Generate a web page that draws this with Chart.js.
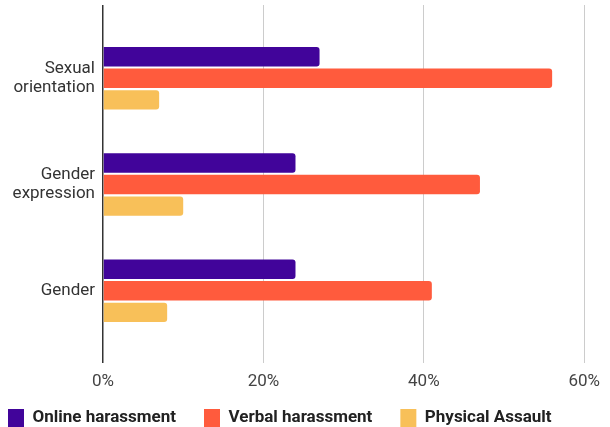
<!DOCTYPE html>
<html>
<head>
<meta charset="utf-8">
<script src="https://cdn.jsdelivr.net/npm/chart.js@4"></script>
<style>
  html, body { margin: 0; padding: 0; background: #fff; }
  #wrap { width: 610px; height: 427px; }
</style>
</head>
<body>
<div id="wrap"><canvas id="myChart"></canvas></div>
<script>
const categories = [["Sexual", "orientation"], ["Gender", "expression"], "Gender"];
const seriesNames = ["Online harassment", "Verbal harassment", "Physical Assault"];
const online = [27, 24, 24];
const verbal = [56, 47, 41];
const physical = [7, 10, 8];
const xTicks = [0, 20, 40, 60];
const colors = ["#41049a", "#ff5b3d", "#f8c059"];

// bars sit on a linear index axis so the empty space above and below the groups can be set
const toPoints = (arr) => arr.map((v, i) => ({ x: v, y: i }));

// pull the legend row up closer to the axis labels
const legendLift = {
    id: 'legendLift',
    afterLayout(chart) {
        chart.legend.top -= 19;
        chart.legend.bottom -= 19;
    }
};

const ctx = document.getElementById('myChart').getContext('2d');
const myChart = new Chart(ctx, {
    type: "bar",
    data: {
        datasets: [online, verbal, physical].map((vals, k) => ({
            label: seriesNames[k],
            data: toPoints(vals),
            backgroundColor: colors[k],
            borderRadius: 3,
            categoryPercentage: 0.61,
            barPercentage: 0.9
        }))
    },
    plugins: [legendLift],
    options: {
        indexAxis: 'y',
        responsive: true,
        maintainAspectRatio: false,
        animation: false,
        layout: {
            padding: { top: 5, right: 23, bottom: -29, left: -20 }
        },
        plugins: {
            legend: {
                position: 'bottom',
                align: 'start',
                labels: {
                    boxWidth: 16,
                    boxHeight: 18,
                    padding: 28,
                    color: '#222',
                    font: { family: 'Roboto', size: 17, weight: 'bold' }
                }
            },
            tooltip: { enabled: false }
        },
        scales: {
            x: {
                min: 0,
                max: 60,
                afterBuildTicks: (scale) => { scale.ticks = xTicks.map(v => ({ value: v })); },
                grid: {
                    color: (c) => c.tick && c.tick.value === 0 ? '#333' : '#ccc',
                    lineWidth: (c) => c.tick && c.tick.value === 0 ? 1.5 : 1,
                    drawTicks: false
                },
                border: { display: false },
                ticks: {
                    padding: 10,
                    color: '#444',
                    font: { family: 'Roboto', size: 17, lineHeight: 1 },
                    callback: (v) => v + '%'
                }
            },
            y: {
                type: 'linear',
                reverse: true,
                offset: false,
                bounds: 'data',
                min: -0.69,
                max: 2.68,
                afterBuildTicks: (scale) => { scale.ticks = categories.map((c, i) => ({ value: i })); },
                afterFit: (scale) => {
                    scale.width = 123;
                    scale.paddingTop = 0;
                    scale.paddingBottom = 0;
                },
                grid: { display: false, drawTicks: false },
                border: { display: false },
                ticks: {
                    padding: 8,
                    color: '#333',
                    font: { family: 'Roboto', size: 17, lineHeight: 1.1 },
                    callback: (v) => categories[v]
                }
            }
        }
    }
});
</script>
</body>
</html>
